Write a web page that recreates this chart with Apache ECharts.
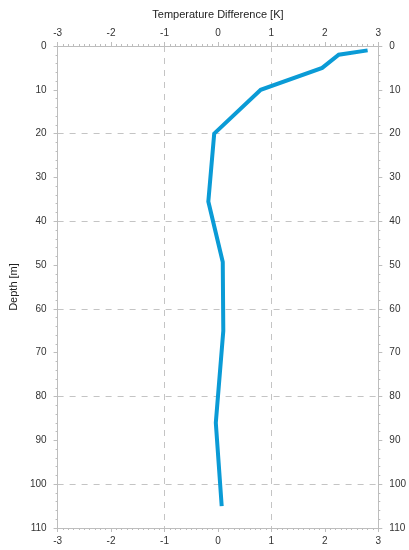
<!DOCTYPE html>
<html><head><meta charset="utf-8">
<script src="https://cdn.jsdelivr.net/npm/echarts@6/dist/echarts.min.js"></script>
<style>html,body{margin:0;padding:0;background:#fff}#c{width:409px;height:550px}</style>
</head><body><div id="c"></div>
<script>
var tempDiff = [2.8, 2.26, 1.95, 0.8, -0.07, -0.18, 0.09, 0.1, -0.04, 0.07];
var depth = [1, 2, 5, 10, 20, 35.5, 49.3, 65, 86, 105];
var xTicks = [-3, -2, -1, 0, 1, 2, 3];
var yTicks = [0, 10, 20, 30, 40, 50, 60, 70, 80, 90, 100, 110];

var data = tempDiff.map(function (v, i) { return [v, depth[i]]; });
var font = 'Liberation Sans, Arial, sans-serif';
var axisCol = '#bdbdbd';
function xAx(pos) {
  return {
    type: 'value', position: pos, min: xTicks[0], max: xTicks[xTicks.length - 1], interval: 1,
    axisLine: { show: true, onZero: false, lineStyle: { color: axisCol } },
    axisTick: { show: true, length: 4, lineStyle: { color: axisCol } },
    minorTick: { show: true, splitNumber: 10, length: 2, lineStyle: { color: axisCol } },
    axisLabel: { show: true, fontFamily: font, fontSize: 10, color: '#333', margin: 8 },
    splitLine: { show: false }
  };
}
function yAx(pos) {
  return {
    type: 'value', position: pos, inverse: true, min: yTicks[0], max: yTicks[yTicks.length - 1], interval: 10,
    axisLine: { show: true, onZero: false, lineStyle: { color: axisCol } },
    axisTick: { show: true, length: 4, lineStyle: { color: axisCol } },
    minorTick: { show: true, splitNumber: 5, length: 2, lineStyle: { color: axisCol } },
    axisLabel: { show: true, fontFamily: font, fontSize: 10, color: '#333', margin: 11 },
    splitLine: { show: false }
  };
}
var xTop = xAx('top');
xTop.name = 'Temperature Difference [K]';
xTop.nameLocation = 'middle';
xTop.nameGap = 26;
xTop.nameTextStyle = { fontFamily: font, fontSize: 11, color: '#222' };
var xBot = xAx('bottom');
var xGrid = {
  type: 'value', position: 'bottom', min: -3, max: 3, interval: 2,
  axisLine: { show: false }, axisTick: { show: false }, axisLabel: { show: false },
  splitLine: { show: true, lineStyle: { color: '#c4c4c4', type: [6, 6], width: 1 } }
};
var yLeft = yAx('left');
yLeft.name = 'Depth [m]';
yLeft.nameLocation = 'middle';
yLeft.nameGap = 37;
yLeft.nameTextStyle = { fontFamily: font, fontSize: 11, color: '#222' };
var yRight = yAx('right');
var yGrid = {
  type: 'value', position: 'left', inverse: true, min: 0, max: 110, interval: 20,
  axisLine: { show: false }, axisTick: { show: false }, axisLabel: { show: false },
  splitLine: { show: true, lineStyle: { color: '#c4c4c4', type: [6, 6], width: 1 } }
};

var chart = echarts.init(document.getElementById('c'), null, { renderer: 'canvas' });
chart.setOption({
  animation: false,
  backgroundColor: '#fff',
  grid: { left: 57, right: 30, top: 46, bottom: 22, containLabel: false },
  xAxis: [xTop, xBot, xGrid],
  yAxis: [yLeft, yRight, yGrid],
  series: [{
    type: 'line', xAxisIndex: 0, yAxisIndex: 0, data: data,
    showSymbol: false, symbol: 'none',
    lineStyle: { color: '#0a9bd6', width: 4, join: 'miter' }
  }]
});
</script></body></html>
